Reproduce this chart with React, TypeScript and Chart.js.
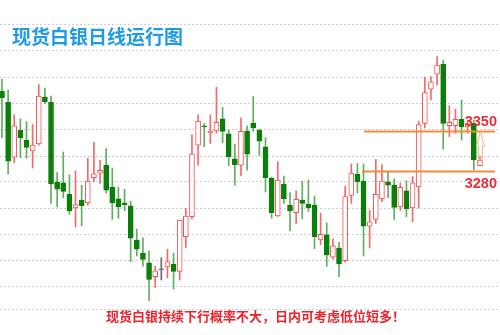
import { useEffect, useRef } from 'react';
import { Chart, registerables } from 'chart.js';

Chart.register(...registerables);

// Daily spot-silver candles (oldest first)
const opens = [
  3420, 3401, 3305, 3352, 3335, 3316, 3328, 3410, 3401, 3262,
  3260, 3240, 3216, 3230, 3225, 3269, 3277, 3291, 3252, 3232,
  3225, 3220, 3160, 3137, 3120, 3096, 3108, 3113, 3118, 3105,
  3166, 3201, 3326, 3360, 3348, 3351, 3372, 3346, 3302, 3291,
  3350, 3364, 3352, 3323, 3268, 3202, 3258, 3221, 3208, 3230,
  3223, 3221, 3160, 3169, 3130, 3146, 3124, 3238, 3275, 3263,
  3184, 3196, 3232, 3262, 3256, 3218, 3246, 3216, 3253, 3364,
  3424, 3450, 3468, 3360, 3360, 3371, 3358, 3364, 3290,
];
const highs = [
  3441, 3423, 3379, 3372, 3367, 3362, 3432, 3426, 3412, 3278,
  3314, 3274, 3281, 3256, 3303, 3331, 3300, 3320, 3286, 3252,
  3249, 3228, 3179, 3164, 3141, 3114, 3129, 3144, 3137, 3195,
  3216, 3344, 3379, 3364, 3379, 3427, 3392, 3352, 3328, 3374,
  3360, 3411, 3354, 3339, 3270, 3297, 3272, 3243, 3246, 3263,
  3265, 3237, 3207, 3190, 3162, 3156, 3254, 3293, 3294, 3293,
  3212, 3301, 3292, 3280, 3267, 3260, 3264, 3271, 3368, 3445,
  3446, 3481, 3475, 3395, 3389, 3405, 3370, 3370, 3306,
];
const lows = [
  3339, 3275, 3295, 3304, 3303, 3286, 3326, 3398, 3224, 3218,
  3234, 3205, 3183, 3185, 3221, 3262, 3259, 3242, 3196, 3198,
  3211, 3122, 3132, 3114, 3054, 3077, 3090, 3094, 3074, 3090,
  3147, 3197, 3291, 3323, 3329, 3347, 3330, 3290, 3256, 3272,
  3282, 3350, 3308, 3244, 3198, 3201, 3224, 3176, 3189, 3197,
  3210, 3145, 3152, 3114, 3127, 3096, 3121, 3224, 3242, 3132,
  3146, 3189, 3227, 3234, 3196, 3212, 3201, 3192, 3216, 3356,
  3405, 3431, 3319, 3341, 3347, 3335, 3347, 3283, 3290,
];
const closes = [
  3409, 3298, 3360, 3339, 3322, 3326, 3412, 3402, 3258, 3249,
  3245, 3211, 3222, 3220, 3263, 3276, 3282, 3247, 3225, 3218,
  3222, 3163, 3144, 3126, 3091, 3106, 3108, 3122, 3105, 3195,
  3202, 3311, 3368, 3358, 3350, 3366, 3350, 3306, 3292, 3350,
  3310, 3356, 3333, 3269, 3208, 3265, 3232, 3211, 3231, 3224,
  3216, 3166, 3170, 3134, 3150, 3118, 3236, 3277, 3262, 3184,
  3192, 3240, 3263, 3256, 3217, 3252, 3215, 3260, 3362, 3418,
  3437, 3466, 3364, 3366, 3371, 3358, 3363, 3300, 3300,
];

// Horizontal dotted guide levels
const gridLevels = [3537, 3491, 3445, 3399, 3353, 3307, 3262, 3216, 3170, 3124, 3078, 3039];

// Key price levels and the candle range they span
const resistance = 3350;
const support = 3280;
const resistanceSpan = [59.1, 80.45];
const supportSpan = [58.75, 80.45];
const arrowIndex = 78;
const arrowFrom = 3302;

const title = '现货白银日线运行图';
const caption = '现货白银持续下行概率不大，日内可考虑低位短多！';

const UP = '#f25454';
const UP_WICK = '#f46a6a';
const DOWN = '#0a7f0a';
const DOWN_WICK = '#63ad63';
const FLAT = '#6b6b6b';
const LEVEL = '#f28c3c';

const overlay = {
  id: 'overlay',
  afterDatasetsDraw(chart: any) {
    const { ctx, scales } = chart;
    const xs = scales.x;
    const ys = scales.y;
    ctx.save();

    // up arrow toward the resistance level
    const cx = xs.getPixelForValue(arrowIndex) + 0.5;
    const tip = ys.getPixelForValue(resistance);
    const bottom = ys.getPixelForValue(arrowFrom);
    const headBase = tip + 15;
    ctx.strokeStyle = '#f6b47f';
    ctx.lineWidth = 1;
    ctx.beginPath();
    ctx.moveTo(cx, tip);
    ctx.lineTo(cx + 4, headBase);
    ctx.lineTo(cx + 2, headBase);
    ctx.lineTo(cx + 2, bottom);
    ctx.lineTo(cx - 2, bottom);
    ctx.lineTo(cx - 2, headBase);
    ctx.lineTo(cx - 4, headBase);
    ctx.closePath();
    ctx.stroke();

    // level labels
    ctx.fillStyle = '#e8303a';
    ctx.font = 'bold 14.5px "Liberation Sans", Arial, sans-serif';
    ctx.textAlign = 'right';
    ctx.textBaseline = 'middle';
    ctx.fillText(String(resistance), 497, ys.getPixelForValue(resistance) - 9.5);
    ctx.fillText(String(support), 497, ys.getPixelForValue(support) + 12.5);

    // heading
    ctx.textAlign = 'left';
    ctx.fillStyle = '#1e9be6';
    ctx.font = 'bold 19px "Noto Sans CJK SC", sans-serif';
    ctx.fillText(title, 12, 36.5);

    // footer note
    ctx.fillStyle = '#f0212b';
    ctx.font = 'bold 13px "Noto Sans CJK SC", sans-serif';
    ctx.fillText(caption, 106, 316.5);

    ctx.restore();
  },
};

export default function App() {
  const canvasRef = useRef<HTMLCanvasElement | null>(null);

  useEffect(() => {
    const canvas = canvasRef.current;
    if (!canvas) return;
    const idx = opens.map((_, i) => i);
    const dir = idx.map((i) => Math.sign(closes[i] - opens[i]));
    const pick = (d: number, up: string, down: string) => (d > 0 ? up : d < 0 ? down : FLAT);

    const chart = new Chart(canvas, {
      type: 'bar',
      data: {
        datasets: [
          {
            type: 'line',
            label: 'resistance',
            data: [
              { x: resistanceSpan[0], y: resistance },
              { x: resistanceSpan[1], y: resistance },
            ],
            borderColor: LEVEL,
            borderWidth: 2,
            pointRadius: 0,
            order: 0,
          } as any,
          {
            type: 'line',
            label: 'support',
            data: [
              { x: supportSpan[0], y: support },
              { x: supportSpan[1], y: support },
            ],
            borderColor: LEVEL,
            borderWidth: 2,
            pointRadius: 0,
            order: 0,
          } as any,
          {
            label: 'body',
            data: idx.map((i) => ({
              x: i,
              y: [Math.min(opens[i], closes[i]), Math.max(opens[i], closes[i])],
            })),
            barThickness: 5,
            borderWidth: 1,
            borderSkipped: false,
            minBarLength: 1,
            grouped: false,
            backgroundColor: dir.map((d) => pick(d, '#ffffff', DOWN)),
            borderColor: dir.map((d) => pick(d, UP, DOWN)),
            order: 1,
          } as any,
          {
            label: 'wick',
            data: idx.map((i) => ({ x: i, y: [lows[i], highs[i]] })),
            barThickness: 1,
            borderWidth: 0,
            grouped: false,
            backgroundColor: dir.map((d) => pick(d, UP_WICK, DOWN_WICK)),
            order: 2,
          } as any,
        ],
      },
      options: {
        animation: false,
        responsive: false,
        maintainAspectRatio: false,
        layout: { padding: 0 },
        plugins: {
          legend: { display: false },
          tooltip: { enabled: false },
        },
        scales: {
          x: {
            type: 'linear',
            min: -0.326,
            max: 81.27,
            offset: false,
            display: false,
          },
          y: {
            min: 2993.75,
            max: 3580,
            afterFit: (s: any) => {
              s.width = 0;
            },
            afterBuildTicks: (s: any) => {
              s.ticks = gridLevels.map((v) => ({ value: v }));
            },
            ticks: { display: false },
            grid: { color: '#cfcfcf', drawTicks: false, lineWidth: 1 },
            border: { display: false, dash: [2, 2] },
          },
        },
      } as any,
      plugins: [overlay],
    });

    return () => chart.destroy();
  }, []);

  return (
    <div style={{ position: 'absolute', left: 0, top: 0, width: 500, height: 335, background: '#ffffff' }}>
      <canvas ref={canvasRef} width={500} height={335} />
    </div>
  );
}
